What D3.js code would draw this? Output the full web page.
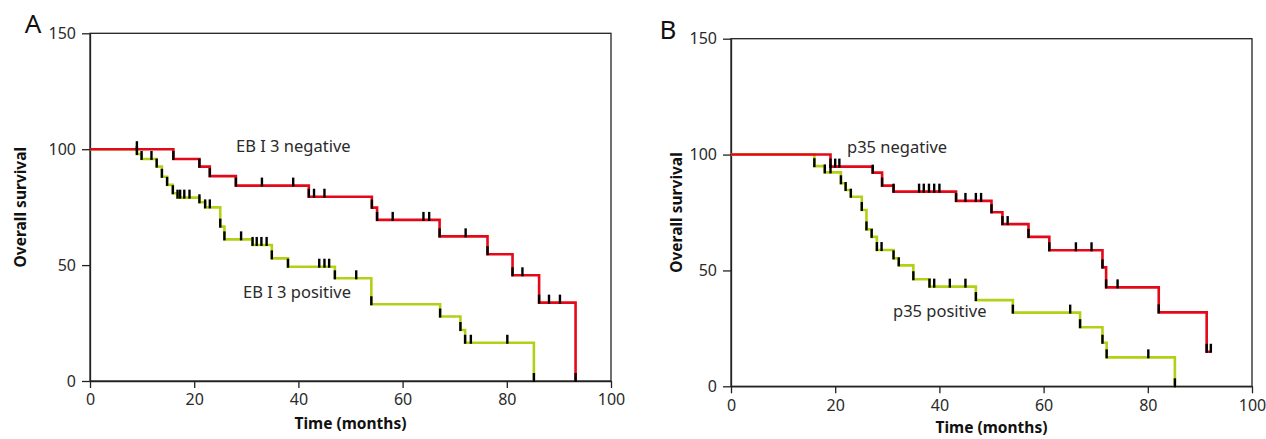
<!DOCTYPE html>
<html><head><meta charset="utf-8">
<script src="https://cdn.jsdelivr.net/npm/d3@7"></script>
<style>html,body{margin:0;padding:0;background:#fff;}svg{display:block;}</style>
</head><body>
<svg id="chart" width="1266" height="439"></svg>
<script>
// ---------- DATA ----------
const xTicks = [0, 20, 40, 60, 80, 100];
const yTicks = [0, 50, 100, 150];

// Panel A: EB I 3
const negA_eventTimes = [16.0, 21.0, 23.0, 28.0, 42.0, 54.1, 55.1, 67.1, 76.3, 81.1, 86.2, 93.2];
const negA_eventSurv  = [95.8, 92.5, 88.4, 84.3, 79.5, 74.8, 69.5, 62.4, 54.7, 45.6, 33.8, 0];
const negA_censor     = [9.0, 33.0, 39.0, 43.0, 45.0, 58.1, 64.0, 65.1, 72.1, 83.0, 88.1, 90.2];

const posA_eventTimes = [9.0, 9.9, 12.8, 13.8, 14.8, 15.9, 16.8, 21.0, 22.1, 25.0, 25.8, 31.2, 34.9, 38.0, 47.0, 54.0, 67.2, 71.1, 72.0, 85.2];
const posA_eventSurv  = [97.9, 95.8, 92.5, 88.1, 84.6, 81.0, 79.1, 77.1, 74.9, 66.6, 61.1, 58.7, 52.9, 49.3, 44.3, 33.1, 27.8, 22.0, 16.5, 0];
const posA_censor     = [11.8, 17.3, 18.1, 19.1, 23.0, 29.0, 32.0, 32.9, 33.9, 44.0, 45.0, 45.9, 51.1, 73.1, 80.1];

// Panel B: p35
const negB_eventTimes = [19.1, 27.2, 29.0, 31.2, 43.2, 50.0, 52.1, 57.1, 61.1, 71.3, 72.0, 82.1, 91.3];
const negB_eventSurv  = [94.8, 92.2, 86.6, 84.0, 80.0, 75.1, 70.0, 64.5, 58.7, 51.3, 42.7, 31.9, 14.9];
const negB_censor     = [20.0, 20.8, 36.1, 37.0, 38.0, 39.0, 40.0, 45.0, 47.0, 48.0, 53.1, 66.2, 69.2, 74.2, 92.1];

const posB_eventTimes = [16.0, 18.0, 21.1, 22.0, 23.0, 25.1, 26.0, 27.0, 28.0, 31.2, 32.2, 35.0, 38.1, 47.0, 54.1, 67.0, 71.3, 72.1, 85.2];
const posB_eventSurv  = [95.0, 92.3, 87.6, 84.7, 81.8, 76.1, 67.7, 64.5, 58.8, 55.2, 52.2, 46.2, 43.0, 37.2, 31.8, 25.5, 18.8, 12.5, 0];
const posB_censor     = [19.1, 28.9, 39.0, 42.0, 45.0, 65.1, 80.1];

const panelLetters = ["A", "B"];
const negLabels = ["EB I 3 negative", "p35 negative"];
const posLabels = ["EB I 3 positive", "p35 positive"];
const xTitle = "Time (months)";
const yTitle = "Overall survival";

// ---------- LAYOUT ----------
const RED = "#e30918", GREEN = "#b5cf16", INK = "#222";
const FONT = "'Noto Sans', 'Open Sans', sans-serif";
const panels = [
  {left: 90, right: 611, top: 33.3, bottom: 381, letter: panelLetters[0],
   letterPos: [33, 33], yTitleX: 21, xTitleY: 429,
   negLab: [negLabels[0], 236, 152], posLab: [posLabels[0], 243, 298],
   neg: [negA_eventTimes, negA_eventSurv, negA_censor],
   pos: [posA_eventTimes, posA_eventSurv, posA_censor]},
  {left: 731, right: 1252, top: 38.7, bottom: 386.3, letter: panelLetters[1],
   letterPos: [668, 39], yTitleX: 677, xTitleY: 433,
   negLab: [negLabels[1], 847, 153], posLab: [posLabels[1], 893, 317],
   neg: [negB_eventTimes, negB_eventSurv, negB_censor],
   pos: [posB_eventTimes, posB_eventSurv, posB_censor]}
];

const svg = d3.select("#chart");

function levelAt(times, surv, t) {
  let v = 100;
  for (let i = 0; i < times.length; i++) if (times[i] <= t) v = surv[i];
  return v;
}

panels.forEach(p => {
  const x = d3.scaleLinear().domain([0, 100]).range([p.left, p.right]);
  const y = d3.scaleLinear().domain([0, 150]).range([p.bottom, p.top]);
  const g = svg.append("g");

  // frame
  g.append("rect").attr("x", p.left).attr("y", p.top)
    .attr("width", p.right - p.left).attr("height", p.bottom - p.top)
    .attr("fill", "none").attr("stroke", INK).attr("stroke-width", 1.3);

  // axes
  const ax = g.append("g").attr("transform", `translate(0,${p.bottom})`)
    .call(d3.axisBottom(x).tickValues(xTicks).tickSize(7).tickSizeOuter(0).tickPadding(6));
  const ay = g.append("g").attr("transform", `translate(${p.left},0)`)
    .call(d3.axisLeft(y).tickValues(yTicks).tickSize(8).tickSizeOuter(0).tickPadding(6));
  [ax, ay].forEach(a => {
    a.select(".domain").attr("stroke", INK).attr("stroke-width", 1.3);
    a.selectAll(".tick line").attr("stroke", INK).attr("stroke-width", 1.3);
    a.selectAll(".tick text").attr("fill", "#2a2a2a").style("font-family", FONT).style("font-size", "16px");
  });

  // curves (green first so red sits on top)
  const line = d3.line().x(d => x(d[0])).y(d => y(d[1])).curve(d3.curveStepAfter);
  const series = [[p.pos, GREEN], [p.neg, RED]];
  series.forEach(([s, col]) => {
    const [et, es, ce] = s;
    const pts = [[0, 100]];
    et.forEach((t, i) => pts.push([t, es[i]]));
    const lastC = d3.max(ce);
    const lastE = d3.max(et);
    if (lastC > lastE) pts.push([lastC, levelAt(et, es, lastC)]);
    g.append("path").datum(pts).attr("d", line).attr("fill", "none")
      .attr("stroke", col).attr("stroke-width", 2.6).attr("stroke-linejoin", "miter");
  });
  series.forEach(([s]) => {
    const [et, es, ce] = s;
    const marks = et.map((t, i) => [t, es[i]]).concat(ce.map(t => [t, levelAt(et, es, t)]));
    g.selectAll(null).data(marks).enter().append("line")
      .attr("x1", d => x(d[0])).attr("x2", d => x(d[0]))
      .attr("y1", d => y(d[1]) + 1).attr("y2", d => y(d[1]) - 8)
      .attr("stroke", "#000").attr("stroke-width", 2.4);
  });

  // labels
  [p.negLab, p.posLab].forEach(l => {
    g.append("text").attr("x", l[1]).attr("y", l[2]).text(l[0])
      .attr("fill", "#2a2a2a").style("font-family", FONT).style("font-size", "16.5px");
  });
  g.append("text").attr("x", p.letterPos[0]).attr("y", p.letterPos[1]).attr("text-anchor", "middle")
    .text(p.letter).attr("fill", "#111").style("font-family", FONT).style("font-size", "26px");
  g.append("text").attr("x", (p.left + p.right) / 2).attr("y", p.xTitleY).attr("text-anchor", "middle")
    .text(xTitle).attr("fill", "#111").style("font-family", FONT).style("font-size", "15.5px").style("font-weight", "bold");
  g.append("text").attr("transform", `translate(${p.yTitleX},${(p.top + p.bottom) / 2}) rotate(-90)`)
    .attr("text-anchor", "middle").attr("dy", "0.35em")
    .text(yTitle).attr("fill", "#111").style("font-family", FONT).style("font-size", "15.5px").style("font-weight", "bold");
});
</script>
</body></html>
